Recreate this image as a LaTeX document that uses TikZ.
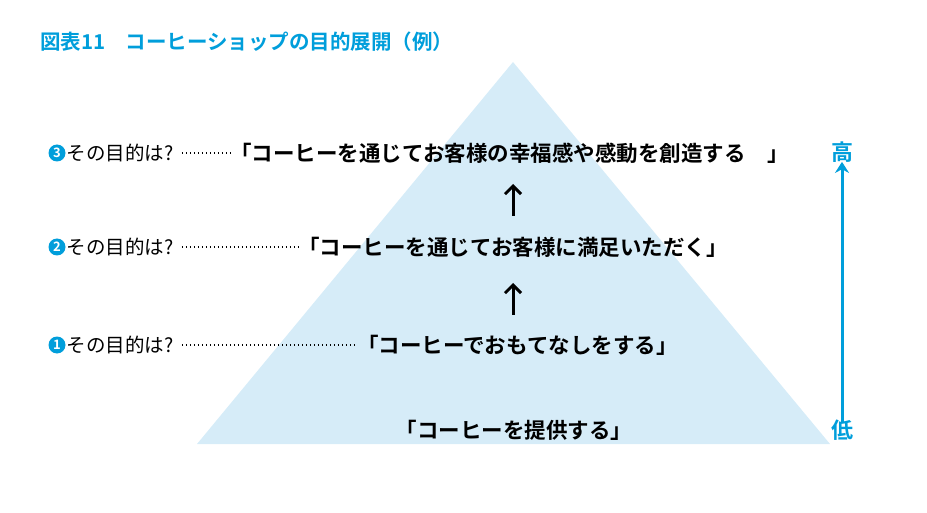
\documentclass[tikz,border=0pt]{standalone}
\usepackage{fontspec}
\setmainfont{Noto Sans CJK JP}[BoldFont={Noto Sans CJK JP Bold}]
\usetikzlibrary{positioning,arrows.meta}
\definecolor{mainblue}{RGB}{0,158,219}
\definecolor{pyramid}{RGB}{214,236,248}
\tikzset{
  goal/.style={anchor=west,inner sep=0pt,font=\fontsize{21.5}{21.5}\selectfont\bfseries},
  qlabel/.style={anchor=west,inner sep=0pt,font=\fontsize{19.5}{19.5}\selectfont},
  numdot/.style={circle,fill=mainblue,text=white,inner sep=0pt,minimum size=17pt,font=\fontsize{13}{13}\selectfont\bfseries},
  leader/.style={dash pattern=on 1.5pt off 2.5pt,line width=1.3pt},
  stepup/.style={-{Straight Barb[length=8pt,width=16pt]},line width=3pt}
}
\begin{document}
\begin{tikzpicture}[x=1pt,y=-1pt]
\useasboundingbox (0,0) rectangle (927,513);

% pyramid
\fill[pyramid] (513,62) -- (830,444) -- (197,444) -- cycle;

% title
\node[anchor=west,inner sep=0pt,text=mainblue,font=\fontsize{20.5}{20.5}\selectfont\bfseries] (title) at (40,42) {図表11　コーヒーショップの目的展開（例）};

% levels
\node[goal] (g3) at (230,153) {「コーヒーを通じてお客様の幸福感や感動を創造する　」};
\node[goal] (g2) at (298,247) {「コーヒーを通じてお客様に満足いただく」};
\node[goal] (g1) at (357,345) {「コーヒーでおもてなしをする」};
\node[goal,anchor=center] (g0) at (514,430) {「コーヒーを提供する」};

% questions
\foreach \n/\y in {3/153,2/247,1/345}{
  \node[numdot] (n\n) at (57,\y) {\n};
  \node[qlabel,right=1pt of n\n] (q\n) {その目的は?};
  \draw[leader] ([xshift=8pt]q\n.east) -- (g\n.west);
}

% arrows between levels
\coordinate (a3t) at (513,184);
\coordinate (a3b) at (513,216);
\coordinate (a2t) at (513,283);
\coordinate (a2b) at (513,315);
\draw[stepup] (a3b) -- (a3t);
\draw[stepup] (a2b) -- (a2t);

% scale on the right
\node[text=mainblue,font=\fontsize{22}{22}\selectfont\bfseries] (high) at (842,152) {高};
\node[text=mainblue,font=\fontsize{22}{22}\selectfont\bfseries] (low) at (842,430) {低};
\draw[mainblue,line width=3pt,-{Stealth[length=11pt,width=14pt]}] ([yshift=-6pt]low.north) -- ([yshift=4pt]high.south);

\end{tikzpicture}
\end{document}
